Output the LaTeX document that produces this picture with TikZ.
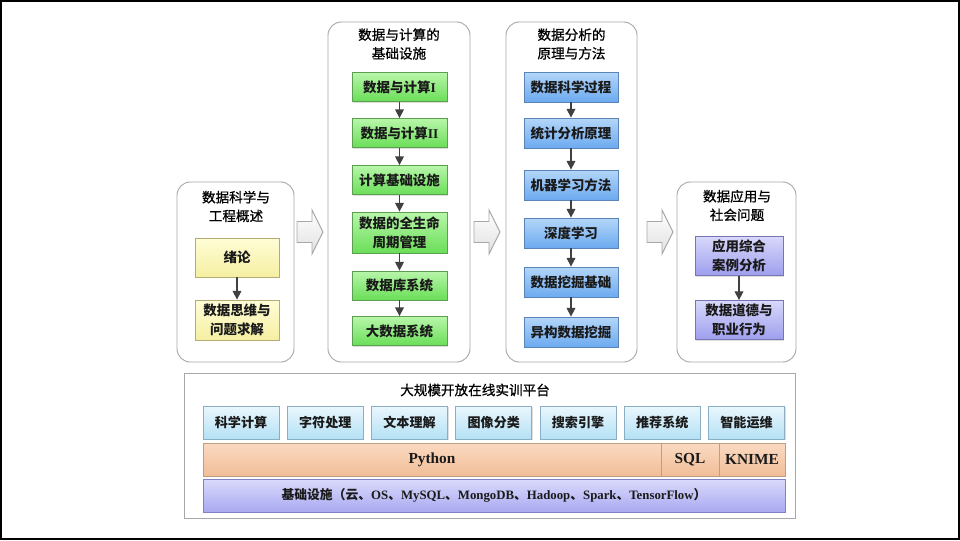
\documentclass[tikz,border=0pt]{standalone}
\usepackage{fontspec}
\setmainfont{Liberation Serif}
\newfontfamily\cjk{Noto Sans CJK SC}
\newfontfamily\cjkhead[FakeBold=0.8]{Noto Sans CJK SC}
\newfontfamily\latin{Liberation Serif}
\newcommand\lt[1]{{\latin\bfseries #1}}
\usetikzlibrary{arrows.meta,shadows}

\definecolor{ylwT}{HTML}{FFFDD6}
\definecolor{ylwB}{HTML}{F5EFA2}
\definecolor{ylwD}{HTML}{B4AC74}
\definecolor{grnT}{HTML}{B8F6AA}
\definecolor{grnB}{HTML}{6ADE58}
\definecolor{grnD}{HTML}{5C9E52}
\definecolor{bluT}{HTML}{B4D6F8}
\definecolor{bluB}{HTML}{6CAAF0}
\definecolor{bluD}{HTML}{5A84B6}
\definecolor{purT}{HTML}{D8D8FB}
\definecolor{purB}{HTML}{9E9EEE}
\definecolor{purD}{HTML}{7676B4}
\definecolor{cyT}{HTML}{EAF7FD}
\definecolor{cyB}{HTML}{B4E1F5}
\definecolor{cyD}{HTML}{8AAFC4}
\definecolor{orT}{HTML}{FADAC2}
\definecolor{orB}{HTML}{F1BD96}
\definecolor{orD}{HTML}{C39B7E}
\definecolor{infT}{HTML}{DADAFC}
\definecolor{infB}{HTML}{A9A9F1}
\definecolor{infD}{HTML}{8282C2}
\definecolor{frameGray}{HTML}{A8A8A8}
\definecolor{linkGray}{HTML}{404040}
\definecolor{txt}{HTML}{1A1A1A}

\tikzset{
  panel/.style={draw=frameGray, line width=0.7pt, rounded corners=10pt, fill=white},
  ptitle/.style={align=center, text=black, inner sep=0pt,
    font=\cjkhead\fontsize{10.2}{14}\selectfont},
  box/.style={draw, rectangle, align=center, inner sep=0pt, text=txt,
    line width=0.6pt,
    font=\cjk\bfseries\fontsize{10.1}{14.5}\selectfont,
    drop shadow={opacity=0.25, shadow xshift=0.9pt, shadow yshift=-0.9pt}},
  ybox/.style={box, draw=ylwD, top color=ylwT, bottom color=ylwB,
    minimum width=63pt},
  gbox/.style={box, draw=grnD, top color=grnT, bottom color=grnB,
    minimum width=71.25pt, minimum height=21.75pt},
  bbox/.style={box, draw=bluD, top color=bluT, bottom color=bluB,
    minimum width=70.5pt, minimum height=22.5pt},
  pbox/.style={box, draw=purD, top color=purT, bottom color=purB,
    minimum width=66pt, minimum height=29.25pt},
  tbox/.style={box, draw=cyD, top color=cyT, bottom color=cyB,
    minimum width=57pt, minimum height=24.75pt,
    font=\cjk\bfseries\fontsize{9.8}{12}\selectfont},
  lang/.style={box, draw=orD, top color=orT, bottom color=orB,
    minimum height=24.75pt, drop shadow={opacity=0},
    font=\latin\bfseries\fontsize{11.5}{13}\selectfont},
  infra/.style={box, draw=infD, top color=infT, bottom color=infB,
    minimum height=24.75pt,
    font=\cjk\bfseries\fontsize{9.6}{11}\selectfont},
  conn/.style={draw=linkGray, line width=1pt,
    -{Triangle[length=6.5pt,width=6.5pt]}},
  barrow/.style={draw=frameGray, line width=0.7pt, line join=miter,
    top color=white, bottom color=black!12},
  blockarrow/.pic={
    \path[barrow] (0,-10.5) -- (15,-10.5) -- (15,-22) -- (26,0)
      -- (15,22) -- (15,10.5) -- (0,10.5) -- cycle;
  }
}

\begin{document}
\begin{tikzpicture}[x=0.75pt,y=-0.75pt]
  % slide area and its frame
  \path[use as bounding box] (0,0) rectangle (960,540);
  \draw[black, line width=1.5pt] (1,1) rectangle (959,539);

  % ---- column panels ----
  \node[panel, minimum width=87.75pt, minimum height=135pt] (p1) at (235.5,272) {};
  \node[panel, minimum width=106.5pt, minimum height=255pt] (p2) at (399,192) {};
  \node[panel, minimum width=98.25pt, minimum height=255pt] (p3) at (571.5,192) {};
  \node[panel, minimum width=89.25pt, minimum height=135pt] (p4) at (736.5,272) {};

  \node[ptitle] (t1) at (236,206.5) {数据科学与\\工程概述};
  \node[ptitle] (t2) at (399,44) {数据与计算的\\基础设施};
  \node[ptitle] (t3) at (571.5,44) {数据分析的\\原理与方法};
  \node[ptitle] (t4) at (737,205.5) {数据应用与\\社会问题};

  % block arrows between the columns
  \pic at (297,232) {blockarrow};
  \pic at (474,232) {blockarrow};
  \pic at (647,232) {blockarrow};

  % ---- column 1 ----
  \node[ybox, minimum height=29.25pt] (a1) at (237,257.5) {绪论};
  \node[ybox, minimum height=30pt] (a2) at (237,320) {数据思维与\\问题求解};
  \draw[conn] (a1) -- (a2);

  % ---- column 2 ----
  \node[gbox] (b1) at (399.5,87) {数据与计算\lt{I}};
  \node[gbox] (b2) at (399.5,133) {数据与计算\lt{II}};
  \node[gbox] (b3) at (399.5,180) {计算基础设施};
  \node[gbox, minimum height=30.75pt] (b4) at (399.5,232.5) {数据的全生命\\周期管理};
  \node[gbox] (b5) at (399.5,285.5) {数据库系统};
  \node[gbox] (b6) at (399.5,331) {大数据系统};
  \foreach \u/\v in {b1/b2,b2/b3,b3/b4,b4/b5,b5/b6}
    \draw[conn] (\u) -- (\v);

  % ---- column 3 ----
  \node[bbox] (c1) at (571,87) {数据科学过程};
  \node[bbox] (c2) at (571,133) {统计分析原理};
  \node[bbox] (c3) at (571,185) {机器学习方法};
  \node[bbox] (c4) at (571,233) {深度学习};
  \node[bbox] (c5) at (571,282) {数据挖掘基础};
  \node[bbox] (c6) at (571,332) {异构数据挖掘};
  \foreach \u/\v in {c1/c2,c2/c3,c3/c4,c4/c5,c5/c6}
    \draw[conn] (\u) -- (\v);

  % ---- column 4 ----
  \node[pbox] (d1) at (739,256) {应用综合\\案例分析};
  \node[pbox] (d2) at (739,320) {数据道德与\\职业行为};
  \draw[conn] (d1) -- (d2);

  % ---- training platform ----
  \node[draw=frameGray, line width=0.7pt, fill=white,
        minimum width=458.25pt, minimum height=108.75pt] (plat) at (489.5,445.5) {};
  \node[ptitle] (pt) at (475,390) {大规模开放在线实训平台};

  \foreach \name/\label [count=\i from 0] in
    {s1/科学计算, s2/字符处理, s3/文本理解, s4/图像分类,
     s5/搜索引擎, s6/推荐系统, s7/智能运维}
    \node[tbox] (\name) at ({241+84.25*\i},422.5) {\label};

  \node[lang, minimum width=343.5pt] (py) at (432,459.5) {Python};
  \node[lang, minimum width=43.5pt] (sql) at (690,459.5) {SQL};
  \node[lang, minimum width=49.5pt] (kn) at (752,459.5) {KNIME};

  \node[infra, minimum width=436.5pt] (inf) at (494,495.5)
    {基础设施（云、\lt{OS}、\lt{MySQL}、\lt{MongoDB}、\lt{Hadoop}、\lt{Spark}、\lt{TensorFlow}）};
\end{tikzpicture}
\end{document}
